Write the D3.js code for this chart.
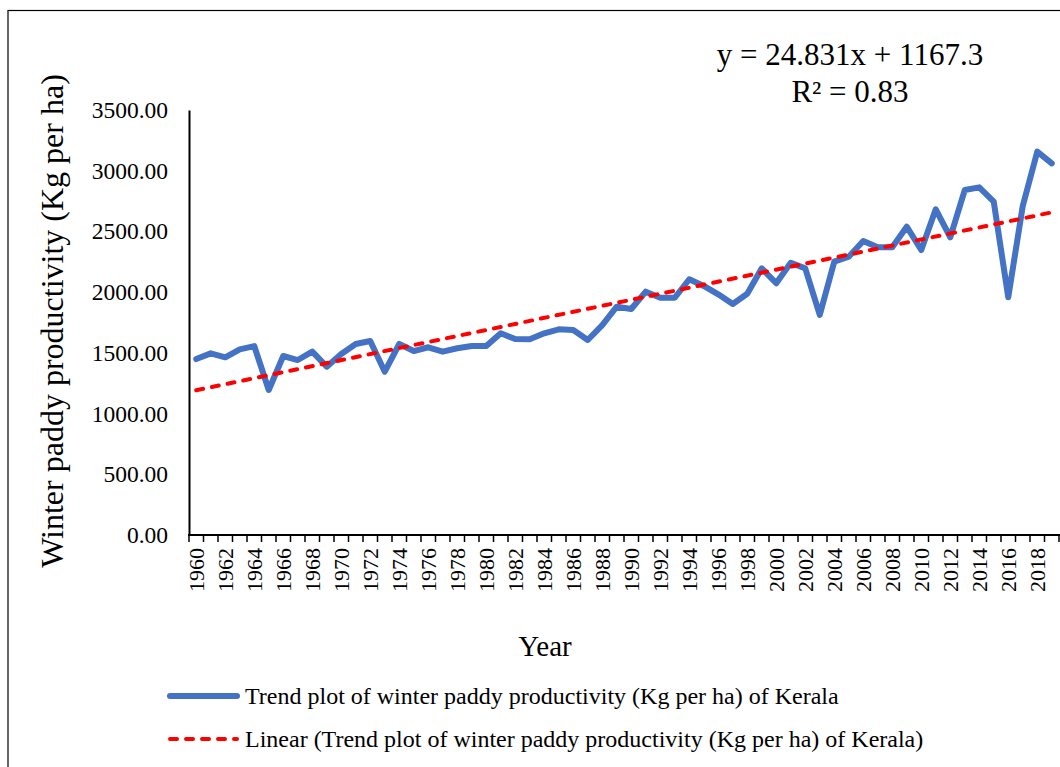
<!DOCTYPE html>
<html>
<head>
<meta charset="utf-8">
<script src="https://cdn.jsdelivr.net/npm/d3@7"></script>
<style>
  body { margin: 0; background: #fff; }
  svg { display: block; font-family: "Liberation Serif", "Times New Roman", serif; }
</style>
</head>
<body>
<svg id="chart" width="1060" height="767"></svg>
<script>
'use strict';

// years 1960..2019
var years = d3.range(1960, 2020);

// winter paddy productivity (kg/ha)
var productivity = [
  1449, 1496, 1463, 1529, 1556, 1194, 1474, 1441, 1510, 1386,
  1491, 1573, 1598, 1345, 1573, 1515, 1546, 1510, 1538, 1556,
  1556, 1661, 1614, 1612, 1661, 1694, 1688, 1606, 1729, 1880,
  1861, 2004, 1954, 1954, 2106, 2051, 1982, 1902, 1987, 2196,
  2073, 2242, 2196, 1812, 2251, 2292, 2421, 2369, 2369, 2539,
  2347, 2682, 2452, 2841, 2863, 2745, 1958, 2709, 3157, 3061
];

// linear trend as printed on the chart (x = 1..60)
var trendSlope = 24.831, trendIntercept = 1167.3;
var equationLines = ['y = 24.831x + 1167.3', 'R\u00b2 = 0.83'];

var yTicks = [0, 500, 1000, 1500, 2000, 2500, 3000, 3500];
var xLabels = years.filter(function (d) { return (d - 1960) % 2 === 0; });

var legendLabels = [
  'Trend plot of winter paddy productivity (Kg per ha) of Kerala',
  'Linear (Trend plot of winter paddy productivity (Kg per ha) of Kerala)'
];

var svg = d3.select('#chart');

// chart border (runs off the right and bottom edge)
svg.append('rect')
  .attr('x', 8).attr('y', 10.5)
  .attr('width', 1100).attr('height', 800)
  .attr('fill', 'none').attr('stroke', '#000').attr('stroke-width', 1.2);

var x = d3.scaleBand().domain(years).range([189, 1059]).paddingInner(0).paddingOuter(0);
var y = d3.scaleLinear().domain([0, 3500]).range([535, 110]);
var cx = function (d) { return x(d) + x.bandwidth() / 2; };

// y axis
var yAxis = svg.append('g').attr('transform', 'translate(189,0)')
  .call(d3.axisLeft(y).tickValues(yTicks).tickFormat(d3.format('.2f')).tickSize(0).tickPadding(21));
yAxis.select('.domain').attr('stroke', '#000').attr('stroke-width', 2);
yAxis.selectAll('text').attr('font-size', 23.5).attr('fill', '#000')
  .attr('font-family', '"Liberation Serif", serif');

// x axis: ticks on category boundaries, labels every 2nd year
var xAxis = svg.append('g').attr('transform', 'translate(0,535)');
xAxis.append('line')
  .attr('x1', 188).attr('x2', 1060).attr('y1', 0).attr('y2', 0)
  .attr('stroke', '#000').attr('stroke-width', 2);
xAxis.selectAll('.tk')
  .data(years.concat([2020]))
  .join('line')
  .attr('class', 'tk')
  .attr('x1', function (d) { return d === 2020 ? x.range()[1] : x(d); })
  .attr('x2', function (d) { return d === 2020 ? x.range()[1] : x(d); })
  .attr('y1', 0).attr('y2', 7)
  .attr('stroke', '#000').attr('stroke-width', 1.5);
xAxis.selectAll('.lbl')
  .data(xLabels)
  .join('text')
  .attr('class', 'lbl')
  .attr('transform', function (d) { return 'translate(' + cx(d) + ',13) rotate(-90)'; })
  .attr('text-anchor', 'end')
  .attr('dy', '0.33em')
  .attr('font-size', 22)
  .text(function (d) { return d; });

// series line
var line = d3.line()
  .x(function (d, i) { return cx(years[i]); })
  .y(function (d) { return y(d); });

svg.append('path')
  .datum(productivity)
  .attr('d', line)
  .attr('fill', 'none')
  .attr('stroke', '#4472C4')
  .attr('stroke-width', 6)
  .attr('stroke-linejoin', 'round')
  .attr('stroke-linecap', 'round');

// linear trend line
var ends = [years[0], years[years.length - 1]];
svg.append('line')
  .attr('x1', cx(ends[0])).attr('y1', y(trendSlope * 1 + trendIntercept))
  .attr('x2', cx(ends[1])).attr('y2', y(trendSlope * years.length + trendIntercept))
  .attr('stroke', '#FF0000')
  .attr('stroke-width', 4)
  .attr('stroke-dasharray', '7,9')
  .attr('stroke-linecap', 'round');

// equation
svg.selectAll('.eq')
  .data(equationLines)
  .join('text')
  .attr('class', 'eq')
  .attr('x', 850)
  .attr('y', function (d, i) { return 65 + i * 37; })
  .attr('text-anchor', 'middle')
  .attr('font-size', 31)
  .text(function (d) { return d; });

// axis titles
svg.append('text')
  .attr('transform', 'translate(63,321) rotate(-90)')
  .attr('text-anchor', 'middle')
  .attr('font-size', 32)
  .text('Winter paddy productivity (Kg per ha)');

svg.append('text')
  .attr('x', 545).attr('y', 656)
  .attr('text-anchor', 'middle')
  .attr('font-size', 29)
  .text('Year');

// legend
var legend = svg.append('g');
legend.append('line')
  .attr('x1', 170).attr('x2', 237).attr('y1', 696).attr('y2', 696)
  .attr('stroke', '#4472C4').attr('stroke-width', 6).attr('stroke-linecap', 'round');
legend.append('line')
  .attr('x1', 170).attr('x2', 237).attr('y1', 739).attr('y2', 739)
  .attr('stroke', '#FF0000').attr('stroke-width', 4)
  .attr('stroke-dasharray', '7,9').attr('stroke-linecap', 'round');
legend.selectAll('.lg')
  .data(legendLabels)
  .join('text')
  .attr('class', 'lg')
  .attr('x', 245)
  .attr('y', function (d, i) { return 704 + i * 43; })
  .attr('font-size', 24)
  .text(function (d) { return d; });
</script>
</body>
</html>
